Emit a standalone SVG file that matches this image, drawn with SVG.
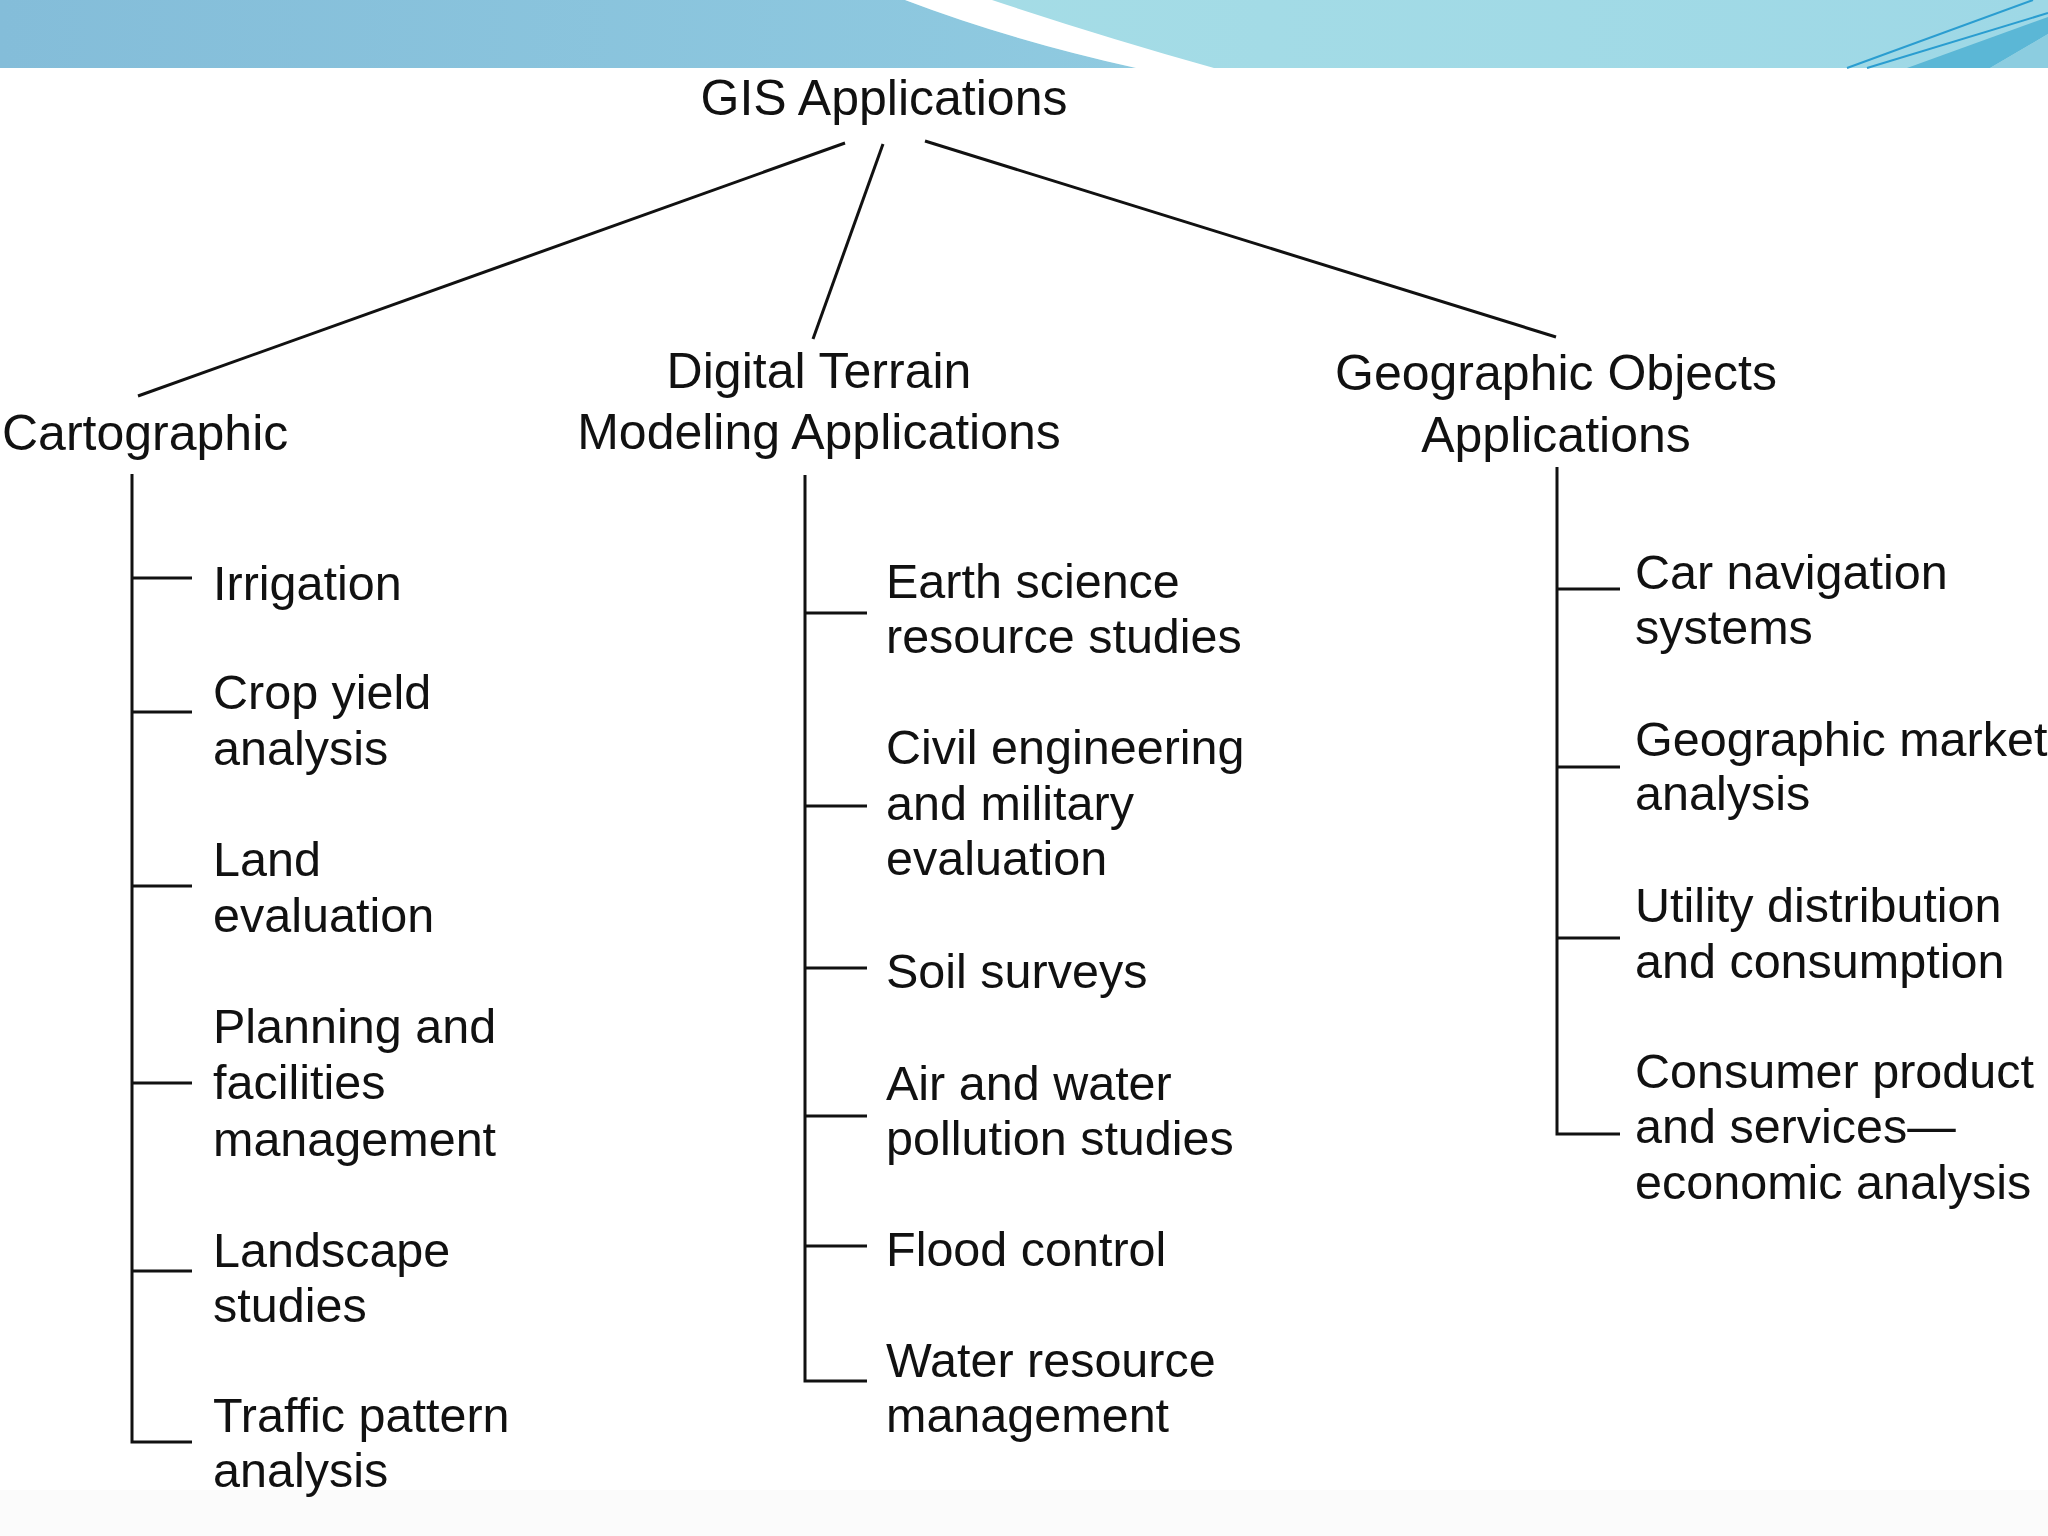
<svg xmlns="http://www.w3.org/2000/svg" width="2048" height="1536" viewBox="0 0 2048 1536">
<defs>
<linearGradient id="bl" x1="0" y1="0" x2="1" y2="0">
<stop offset="0" stop-color="#84bdd9"/>
<stop offset="1" stop-color="#8fcae0"/>
</linearGradient>
<linearGradient id="br" x1="0" y1="0" x2="1" y2="0">
<stop offset="0" stop-color="#abe0e6"/>
<stop offset="1" stop-color="#9ed8e6"/>
</linearGradient>
<style>
text { font-family: "Liberation Sans", Arial, Helvetica, sans-serif; font-size: 50px; fill: #111; }
.mid { text-anchor: middle; }
.leaf text { font-size: 48.5px; }
.c line, .c path { stroke: #111; stroke-width: 3; fill: none; }
.deco { stroke: #2a9dd0; stroke-width: 2; fill: none; }
</style>
</defs>
<rect width="2048" height="1536" fill="#ffffff"/>
<g id="banner">
<rect x="0" y="0" width="2048" height="68" fill="url(#br)"/>
<path d="M0,0 H905 Q1010,40 1136,68 H0 Z" fill="url(#bl)"/>
<path d="M905,0 H992 Q1100,36 1214,68 H1136 Q1010,40 905,0 Z" fill="#ffffff"/>
<path d="M1907,68 L2048,17 V34 L1990,68 Z" fill="#5bb7d6"/>
<path d="M1990,68 L2048,34 V68 Z" fill="#8ccde0"/>
<line class="deco" x1="1847" y1="68" x2="2033" y2="0"/>
<line class="deco" x1="1867" y1="68" x2="2048" y2="13"/>
</g>
<rect x="0" y="1490" width="2048" height="46" fill="#fbfbfb"/>
<g id="connectors" class="c">
<line x1="845" y1="143" x2="138" y2="396"/>
<line x1="883" y1="144" x2="813" y2="339"/>
<line x1="925" y1="141" x2="1556" y2="337"/>
<path d="M132,474 V1442 H192 M132,578 H192 M132,712 H192 M132,886 H192 M132,1083 H192 M132,1271 H192"/>
<path d="M805,475 V1381 H867 M805,613 H867 M805,806 H867 M805,968 H867 M805,1116 H867 M805,1246 H867"/>
<path d="M1557,467 V1134 H1620 M1557,589 H1620 M1557,767 H1620 M1557,938 H1620"/>
</g>
<g id="gis-applications"><text class="mid" x="884" y="115">GIS Applications</text></g>
<g id="cartographic"><text x="2" y="450">Cartographic</text></g>
<g id="dtm"><text class="mid" x="819" y="388">Digital Terrain</text><text class="mid" x="819" y="449">Modeling Applications</text></g>
<g id="geo-objects"><text class="mid" x="1556" y="390">Geographic Objects</text><text class="mid" x="1556" y="452">Applications</text></g>
<g class="leaf">
<g id="irrigation"><text x="213" y="600">Irrigation</text></g>
<g id="crop-yield"><text x="213" y="709">Crop yield</text><text x="213" y="765">analysis</text></g>
<g id="land-evaluation"><text x="213" y="876">Land</text><text x="213" y="932">evaluation</text></g>
<g id="planning"><text x="213" y="1043">Planning and</text><text x="213" y="1099">facilities</text><text x="213" y="1156">management</text></g>
<g id="landscape"><text x="213" y="1267">Landscape</text><text x="213" y="1322">studies</text></g>
<g id="traffic"><text x="213" y="1432">Traffic pattern</text><text x="213" y="1487">analysis</text></g>
<g id="earth-science"><text x="886" y="598">Earth science</text><text x="886" y="653">resource studies</text></g>
<g id="civil-engineering"><text x="886" y="764">Civil engineering</text><text x="886" y="820">and military</text><text x="886" y="875">evaluation</text></g>
<g id="soil-surveys"><text x="886" y="988">Soil surveys</text></g>
<g id="air-water"><text x="886" y="1100">Air and water</text><text x="886" y="1155">pollution studies</text></g>
<g id="flood-control"><text x="886" y="1266">Flood control</text></g>
<g id="water-resource"><text x="886" y="1377">Water resource</text><text x="886" y="1432">management</text></g>
<g id="car-navigation"><text x="1635" y="589">Car navigation</text><text x="1635" y="644">systems</text></g>
<g id="geo-market"><text x="1635" y="756">Geographic market</text><text x="1635" y="810">analysis</text></g>
<g id="utility"><text x="1635" y="922">Utility distribution</text><text x="1635" y="978">and consumption</text></g>
<g id="consumer"><text x="1635" y="1088">Consumer product</text><text x="1635" y="1143">and services—</text><text x="1635" y="1199">economic analysis</text></g>
</g>
</svg>
